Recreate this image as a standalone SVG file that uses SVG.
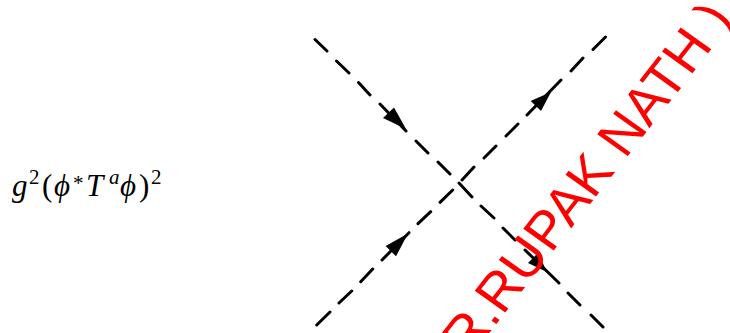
<svg xmlns="http://www.w3.org/2000/svg" width="730" height="333" viewBox="0 0 730 333">
<style>
.l{stroke:#000;stroke-width:3;fill:none;stroke-linecap:round}
.a{fill:#000}
.m{font-family:"Liberation Serif","DejaVu Serif",serif;fill:#000;font-size:31px}
.i{font-style:italic}
.s{font-size:21px}
.w{font-family:"Liberation Sans",Arial,sans-serif;font-size:54.500px;fill:#f00}
</style>
<g id="connectors">
<path class="l" d="M315 39.500L327 51M336.500 61L349 73M358.500 82.500L370 95M380 104L406 131M416 141L428 153M438 162L450 174M459 183L472 197M481 206L494 218M503 228L515 240M525 250L559 283M568 293L580 305M591 315L603 327"/>
<path class="l" d="M605.500 37L593 49.500M583 58L571 71M561 80L527 115M518 124L506 136M496 146L484 158M474 167L462 180M452.700 190L440 202.300M430.700 211.700L418 223.700M409 232.700L382 260M372.700 269L360.700 281.700M351.700 291L339 303M330 312L316.700 325"/>
<path class="a" d="M406 129L383 118L394 107.500Z"/>
<path class="a" d="M551 92L530.700 101L541 111Z"/>
<path class="a" d="M408 233.500L385.700 246L396 256.300Z"/>
<path class="a" d="M547 272L528 263L538 253Z"/>
</g>
<g id="formula">
<text class="m i" x="12" y="196">g</text><text class="m s" x="29" y="184">2</text>
<text class="m" x="42" y="196">(</text><text class="m i" x="54" y="196">ϕ</text><text class="m s" x="73" y="190">*</text>
<text class="m i" x="86" y="196">T</text><text class="m s i" x="109" y="184">a</text><text class="m i" x="120" y="196">ϕ</text>
<text class="m" x="139" y="196">)</text><text class="m s" x="151" y="184">2</text>
</g>
<text class="w" transform="matrix(.616 -.788 .814 .581 469 359)">R.RUPAK NATH )</text>
</svg>
